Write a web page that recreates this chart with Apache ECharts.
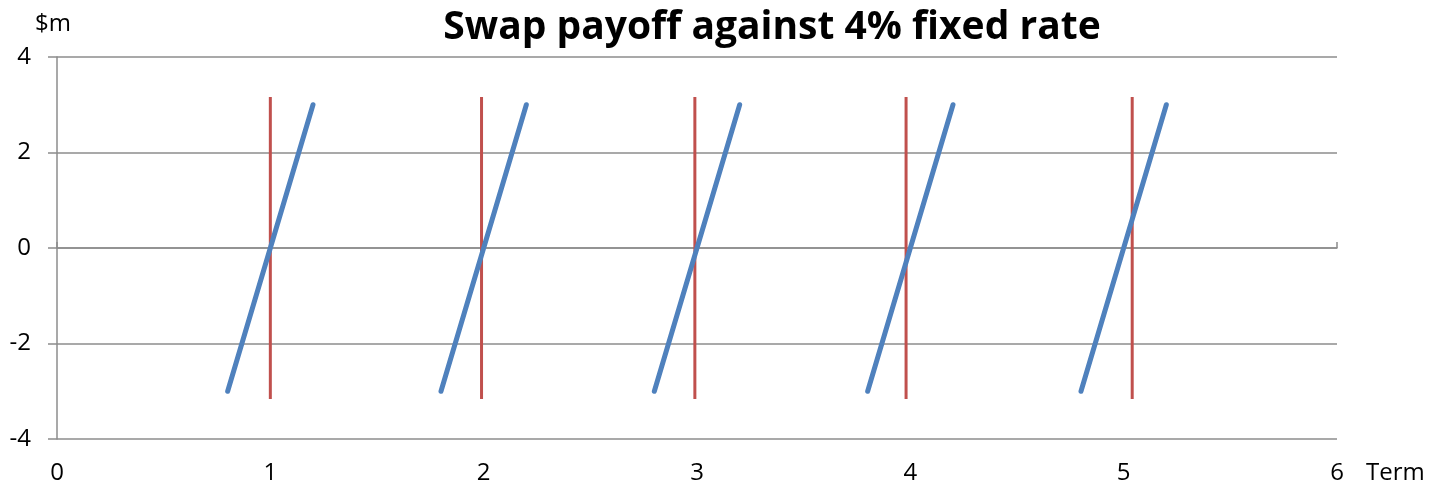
<!DOCTYPE html>
<html>
<head>
<meta charset="UTF-8">
<title>Swap payoff against 4% fixed rate</title>
<script src="https://cdn.jsdelivr.net/npm/echarts@6/dist/echarts.min.js"></script>
<style>
  html, body { margin: 0; padding: 0; background: #fff; }
  #container { width: 1435px; height: 486px; }
</style>
</head>
<body>
<div id="container"></div>
<script>
// term ticks on the x axis and $m ticks on the y axis
var termTicks = [0, 1, 2, 3, 4, 5, 6];
var payoffTicks = [-4, -2, 0, 2, 4];

// blue payoff segments: one per reset date
var payoffLowX  = [0.80, 1.80, 2.80, 3.80, 4.80];
var payoffHighX = [1.20, 2.20, 3.20, 4.20, 5.20];
var payoffLowY  = [-3, -3, -3, -3, -3];
var payoffHighY = [3, 3, 3, 3, 3];

// red vertical markers at each reset date
var resetX    = [1.00, 1.99, 2.99, 3.98, 5.04];
var resetLowY  = [-3.16, -3.16, -3.16, -3.16, -3.16];
var resetHighY = [3.16, 3.16, 3.16, 3.16, 3.16];

var font = '"Open Sans", Lato, sans-serif';
var gridGray = '#8c8c8c';

var series = [];
for (var i = 0; i < resetX.length; i++) {
  series.push({
    type: 'line',
    xAxisIndex: 0,
    data: [[resetX[i], resetLowY[i]], [resetX[i], resetHighY[i]]],
    symbol: 'none',
    silent: true,
    z: 3,
    lineStyle: { color: '#c0504d', width: 3, cap: 'butt' }
  });
}
for (var j = 0; j < payoffLowX.length; j++) {
  series.push({
    type: 'line',
    xAxisIndex: 0,
    data: [[payoffLowX[j], payoffLowY[j]], [payoffHighX[j], payoffHighY[j]]],
    symbol: 'none',
    silent: true,
    z: 4,
    lineStyle: { color: '#4f81bd', width: 5, cap: 'round' }
  });
}

var myChart = echarts.init(document.getElementById('container'), null, { renderer: 'canvas' });
var option = {
  backgroundColor: '#ffffff',
  animation: false,
  title: {
    text: 'Swap payoff against 4% fixed rate',
    left: 767,
    textAlign: 'center',
    top: 3,
    textStyle: { fontFamily: font, fontSize: 39, fontWeight: 'bold', color: '#000' }
  },
  grid: { left: 57, right: 98, top: 57, bottom: 47, containLabel: false },
  xAxis: [
    {
      type: 'value',
      min: termTicks[0],
      max: termTicks[termTicks.length - 1],
      interval: 1,
      position: 'bottom',
      name: 'Term',
      nameLocation: 'end',
      nameGap: 29,
      nameTextStyle: { fontFamily: font, fontSize: 24, color: '#000', verticalAlign: 'top', padding: [22, 0, 0, 0] },
      axisLine: { show: false, onZero: false },
      axisTick: { show: false },
      splitLine: { show: false },
      axisLabel: { fontFamily: font, fontSize: 24, color: '#000', margin: 22 }
    },
    {
      // the horizontal axis line crossing at zero, with end ticks only
      type: 'value',
      min: termTicks[0],
      max: termTicks[termTicks.length - 1],
      interval: 6,
      axisLine: { show: true, onZero: true, lineStyle: { color: gridGray, width: 1.5 } },
      axisTick: { show: true, length: 6, inside: false, lineStyle: { color: gridGray, width: 1.5 } },
      axisLabel: { show: false },
      splitLine: { show: false }
    }
  ],
  yAxis: {
    type: 'value',
    min: payoffTicks[0],
    max: payoffTicks[payoffTicks.length - 1],
    interval: 2,
    name: '$m',
    nameLocation: 'end',
    nameGap: 21,
    nameTextStyle: { fontFamily: font, fontSize: 24, color: '#000', align: 'right', padding: [0, -14, 0, 0] },
    axisLine: { show: true, lineStyle: { color: gridGray, width: 1.5 } },
    axisTick: { show: true, length: 9, lineStyle: { color: gridGray, width: 1.5 } },
    splitLine: { show: true, lineStyle: { color: gridGray, width: 1.5 } },
    axisLabel: { fontFamily: font, fontSize: 24, color: '#000', margin: 26 }
  },
  series: series
};

if (option && typeof option === "object") {
  myChart.setOption(option, true);
}
</script>
</body>
</html>
